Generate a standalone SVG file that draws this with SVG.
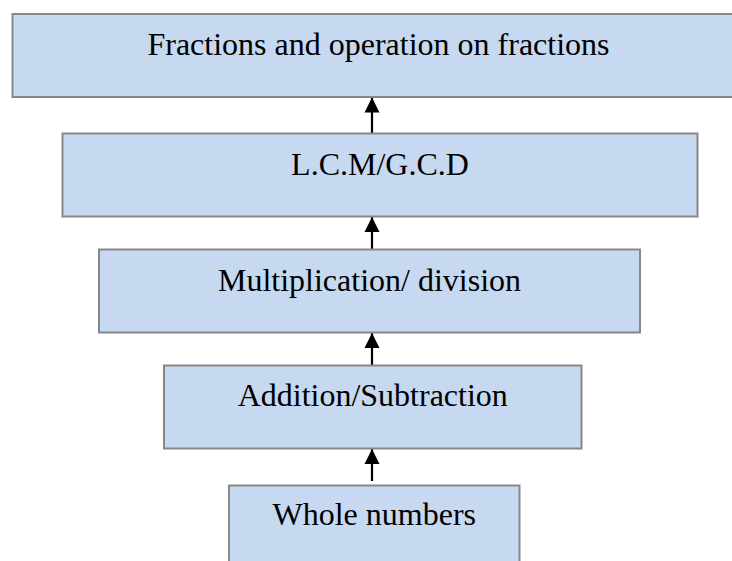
<svg xmlns="http://www.w3.org/2000/svg" width="732" height="561" viewBox="0 0 732 561">
  <style>
    .box { fill: #c6d9f0; stroke: #878787; stroke-width: 2; }
    .label { font-family: "Liberation Serif", "Times New Roman", serif; font-size: 32px; fill: #000; text-anchor: middle; }
    .link { stroke: #000; stroke-width: 2.2; fill: none; marker-end: url(#head); }
  </style>
  <defs>
    <marker id="head" markerUnits="userSpaceOnUse" markerWidth="16" markerHeight="16" viewBox="0 0 16 16" refX="15" refY="8" orient="auto">
      <path d="M0,0.5 L15,8 L0,15.5 Z" fill="#000"/>
    </marker>
  </defs>
  <rect width="732" height="561" fill="#fff"/>

  <g id="connectors">
    <line class="link" x1="372" y1="133" x2="372" y2="97.5"/>
    <line class="link" x1="372" y1="249" x2="372" y2="217"/>
    <line class="link" x1="372" y1="365" x2="372" y2="333"/>
    <line class="link" x1="372" y1="481" x2="372" y2="449"/>
  </g>

  <g id="fractions">
    <rect class="box" x="12.5" y="14" width="732" height="83"/>
    <text class="label" x="378.5" y="55">Fractions and operation on fractions</text>
  </g>

  <g id="lcm-gcd">
    <rect class="box" x="62.5" y="133.5" width="635" height="83"/>
    <text class="label" x="380" y="174.5">L.C.M/G.C.D</text>
  </g>

  <g id="multiplication-division">
    <rect class="box" x="99" y="249.5" width="541" height="83"/>
    <text class="label" x="369.5" y="290.5">Multiplication/ division</text>
  </g>

  <g id="addition-subtraction">
    <rect class="box" x="164" y="365.5" width="417.5" height="83"/>
    <text class="label" x="372.75" y="406">Addition/Subtraction</text>
  </g>

  <g id="whole-numbers">
    <rect class="box" x="229" y="485.5" width="290.5" height="90"/>
    <text class="label" x="374.25" y="524.5">Whole numbers</text>
  </g>
</svg>
